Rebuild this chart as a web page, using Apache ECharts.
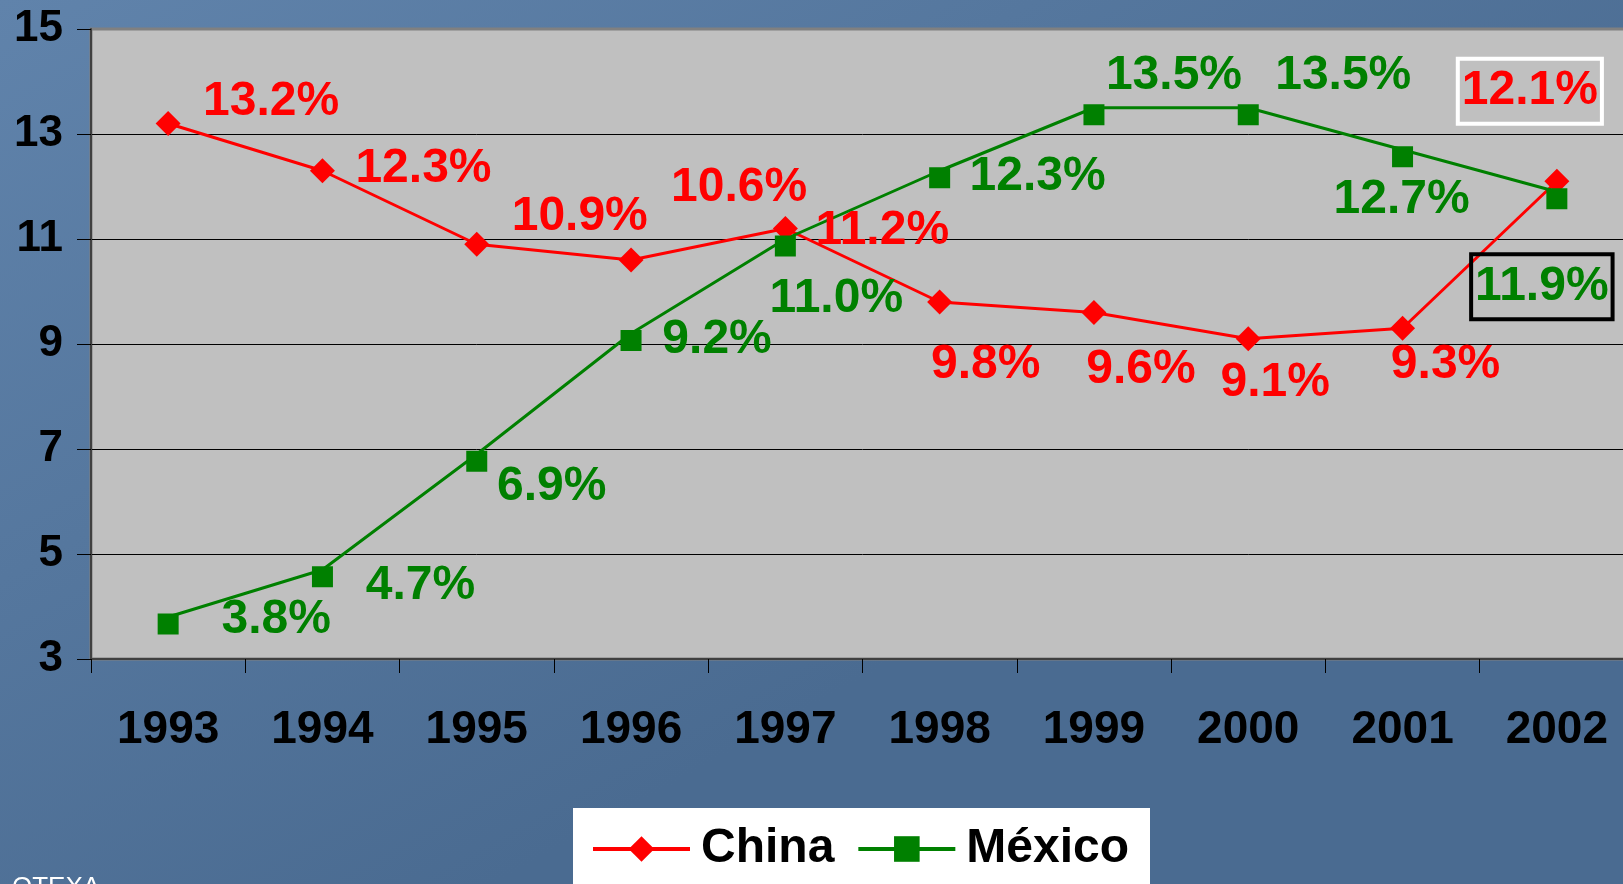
<!DOCTYPE html>
<html>
<head>
<meta charset="utf-8">
<script src="https://cdn.jsdelivr.net/npm/echarts@6/dist/echarts.min.js"></script>
<style>
    html,body{margin:0;padding:0;overflow:hidden;}
    /* the plot runs past the right edge of the slide, so the chart is a bit wider than the window */
    #chart{width:1650px;height:884px;}
</style>
</head>
<body>
<div id="chart"></div>
<script>
// data
var years = ['1993','1994','1995','1996','1997','1998','1999','2000','2001','2002'];
var china = [13.2, 12.3, 10.9, 10.6, 11.2, 9.8, 9.6, 9.1, 9.3, 12.1];
var mexico = [3.8, 4.7, 6.9, 9.2, 11.0, 12.3, 13.5, 13.5, 12.7, 11.9];
var yTicks = [3, 5, 7, 9, 11, 13, 15];

// where each value label sits relative to its marker (px)
var chinaShift = [[103,-22],[101,-2],[103,-27],[108,-72],[97,2],[46,63],[47,57],[27,44],[43,37],[-27,-90]];
var mexicoShift = [[108,-4],[98,9],[75,26],[86,-1],[51,53],[98,-1],[80,-39],[95,-39],[-1,43],[-15,88]];

var font = "'Liberation Sans', Arial, sans-serif";
var red = '#ff0000', green = '#008000';

function buildData(values, shift, boxIndex, boxColor){
    return values.map(function(v,i){
        var item = {value: v, label: {offset: shift[i]}};
        if(i === boxIndex){
            item.label.borderColor = boxColor;
            item.label.borderWidth = 4;
            item.label.padding = [10,4,7,4];
        }
        return item;
    });
}

var myChart = echarts.init(document.getElementById('chart'));
var option = {
    animation: false,
    backgroundColor: {
        type: 'linear', x: 0, y: 0, x2: 0.3, y2: 1,
        colorStops: [{offset: 0, color: '#6083ab'}, {offset: 1, color: '#4a6b91'}]
    },
    graphic: [
        {type: 'rect', left: 573, top: 808, shape: {width: 577, height: 90}, style: {fill: '#fff'}, z: 1},
        {type: 'text', left: 12, top: 875, style: {text: 'OTEXA', fill: '#fff', font: '26px ' + font}}
    ],
    grid: {
        left: 91, top: 29, right: 16, bottom: 225,
        show: true, backgroundColor: '#c0c0c0', borderColor: '#808080', borderWidth: 3
    },
    legend: {
        left: 591, top: 825, padding: 0, itemWidth: 97, itemHeight: 32, itemGap: 22,
        selectedMode: false, z: 5,
        lineStyle: {width: 4},
        textStyle: {fontSize: 48, fontWeight: 'bold', color: '#000', fontFamily: font, padding: [0,0,0,6]},
        data: ['China', 'México']
    },
    xAxis: {
        type: 'category',
        data: years,
        boundaryGap: true,
        axisLine: {lineStyle: {color: '#404040', width: 2}},
        axisTick: {show: true, length: 14, lineStyle: {color: '#000', width: 1}},
        axisLabel: {interval: 0, margin: 48, fontSize: 46, fontWeight: 'bold', color: '#000', fontFamily: font},
        splitLine: {show: false}
    },
    yAxis: {
        type: 'value',
        min: yTicks[0], max: yTicks[yTicks.length - 1], interval: 2,
        axisLine: {show: true, lineStyle: {color: '#404040', width: 2}},
        axisTick: {show: true, length: 14, lineStyle: {color: '#000', width: 1}},
        axisLabel: {margin: 28, fontSize: 44, fontWeight: 'bold', color: '#000', fontFamily: font},
        splitLine: {show: true, lineStyle: {color: ['rgba(0,0,0,0)','#000','#000','#000','#000','#000','#808080'], width: 1}}
    },
    series: [
        {
            name: 'China',
            type: 'line',
            data: buildData(china, chinaShift, 9, '#ffffff'),
            symbol: 'diamond',
            symbolSize: 25,
            itemStyle: {color: red},
            lineStyle: {color: red, width: 3},
            label: {
                show: true, position: 'inside',
                formatter: function(p){ return p.value.toFixed(1) + '%'; },
                fontSize: 48, fontWeight: 'bold', color: red, fontFamily: font
            }
        },
        {
            name: 'México',
            type: 'line',
            data: buildData(mexico, mexicoShift, 9, '#000000'),
            symbol: 'rect',
            symbolSize: 21,
            symbolOffset: [0, 7],
            itemStyle: {color: green},
            lineStyle: {color: green, width: 3},
            label: {
                show: true, position: 'inside',
                formatter: function(p){ return p.value.toFixed(1) + '%'; },
                fontSize: 48, fontWeight: 'bold', color: green, fontFamily: font
            }
        }
    ]
};
myChart.setOption(option, true);
window.addEventListener("resize", function(){ myChart.resize(); });
</script>
</body>
</html>
